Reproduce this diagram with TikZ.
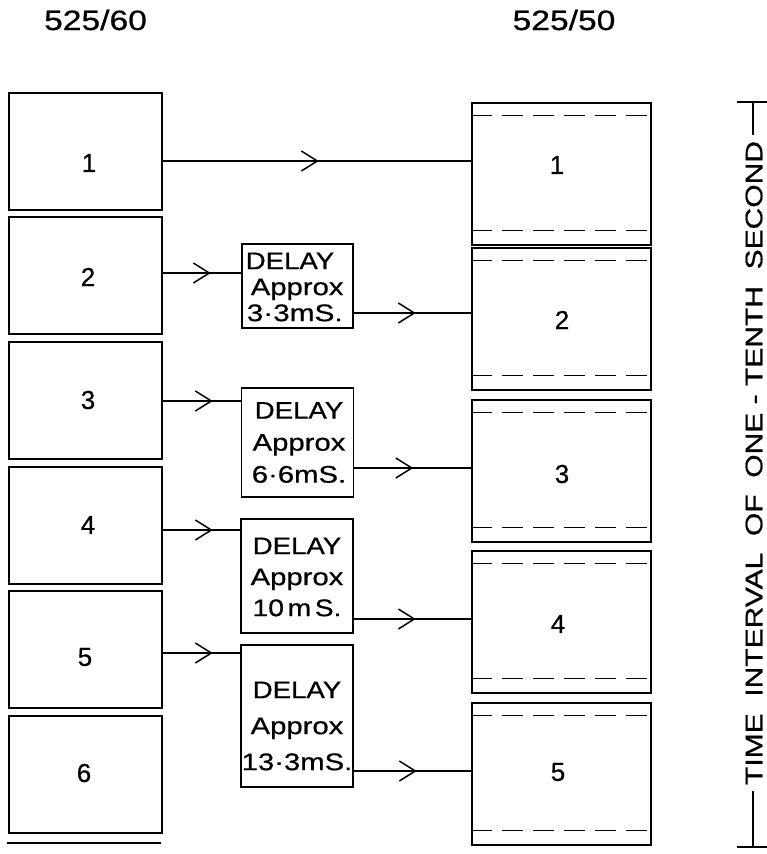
\documentclass[tikz,border=0pt]{standalone}
\usepackage{fontspec}
\setmainfont{Liberation Sans}[FakeBold=0.6]
\usetikzlibrary{arrows.meta,decorations.markings}
\newcommand\hs[2]{\scalebox{#1}[1]{#2}}
\begin{document}
\begin{tikzpicture}[x=1pt,y=-1pt,
  line width=1.5pt,
  >={Straight Barb[length=16pt,width=20pt]},
  box/.style={draw, rectangle, inner sep=0pt},
  lbox/.style={box, minimum width=153pt, minimum height=117pt},
  rbox/.style={box, minimum width=179pt, minimum height=142pt},
  dbox/.style={box, minimum width=112pt},
  num/.style={font=\fontsize{26}{26}\selectfont, inner sep=0pt},
  head/.style={font=\fontsize{28}{28}\selectfont, inner sep=0pt},
  dtext/.style={font=\fontsize{24}{#1}\selectfont, align=center, inner sep=0pt},
  arrowat/.style={postaction={decorate}, decoration={markings, mark=at position #1 with {\arrow{>}}}},
  dashln/.style={dash pattern=on 21pt off 10pt, line width=1.4pt}
]
\useasboundingbox (0,0) rectangle (767,854);

% headers
\node[head] (h1) at (95.5,20) {\hs{1.2}{525/60}};
\node[head] (h2) at (564,20) {\hs{1.2}{525/50}};

% left boxes (525/60)
\node[lbox] (L1) at (85.5,151.5) {};
\node[lbox] (L2) at (85.5,275.5) {};
\node[lbox] (L3) at (85.5,400.5) {};
\node[lbox] (L4) at (85.5,525.5) {};
\node[lbox] (L5) at (85.5,649.5) {};
\node[lbox] (L6) at (85.5,774.5) {};
\draw ([shift={(-1pt,-9pt)}]L6.south west) -- ([shift={(-2pt,-9pt)}]L6.south east);

\node[num] (l1) at (89,163) {1};
\node[num] (l2) at (88,277) {2};
\node[num] (l3) at (88,400) {3};
\node[num] (l4) at (88,525) {4};
\node[num] (l5) at (85,657) {5};
\node[num] (l6) at (84,773) {6};

% right boxes (525/50)
\node[rbox] (R1) at (561.5,174) {};
\node[rbox] (R2) at (561.5,319) {};
\node[rbox] (R3) at (561.5,471) {};
\node[rbox] (R4) at (561.5,622) {};
\node[rbox] (R5) at (561.5,774) {};
\foreach \r in {R1,R2,R3,R4,R5}{
  \draw[dashln] ([yshift=-13pt]\r.north west) -- ([yshift=-13pt]\r.north east);
  \draw[dashln] ([yshift=15pt]\r.south west) -- ([yshift=15pt]\r.south east);
}
\node[num] (r1) at (557,165) {1};
\node[num] (r2) at (562,320) {2};
\node[num] (r3) at (562,474) {3};
\node[num] (r4) at (558,624) {4};
\node[num] (r5) at (558,772) {5};

% delay boxes
\node[dbox, minimum width=111pt, minimum height=84pt] (D1) at (297.5,286) {};
\node[dbox, minimum height=109pt] (D2) at (297.5,442.5) {};
\node[dbox, minimum height=114pt] (D3) at (297,576) {};
\node[dbox, minimum height=142pt] (D4) at (297,716) {};

\node[dtext=26, align=left, anchor=west] (t1) at (245,287)
  {\hs{1.15}{DELAY}\\\hspace{5pt}\hs{1.22}{Approx}\\\hspace{1pt}\hs{1.24}{3·3mS.}};
\node[dtext=32] (t2) at (299,442.5)
  {\hs{1.15}{DELAY}\\\hs{1.22}{Approx}\\\hs{1.22}{6·6mS.}};
\node[dtext=31] (t3) at (297,577)
  {\hs{1.15}{DELAY}\\\hs{1.22}{Approx}\\\hs{1.18}{10\hspace{3pt}m\hspace{3pt}S.}};
\node[dtext=36] (t4) at (297,726)
  {\hs{1.15}{DELAY}\\\hs{1.22}{Approx}\\\hs{1.22}{13·3mS.}};

% connectors
\draw[arrowat=156pt] (L1.east |- 0,161) -- (R1.west |- 0,161);
\draw[arrowat=48pt] (L2.east |- 0,273) -- (D1.west |- 0,273);
\draw[arrowat=62pt] (D1.east |- 0,313) -- (R2.west |- 0,313);
\draw[arrowat=50pt] (L3.east |- 0,401) -- (D2.west |- 0,401);
\draw[arrowat=59pt] (D2.east |- 0,468) -- (R3.west |- 0,468);
\draw[arrowat=50pt] (L4.east |- 0,530) -- (D3.west |- 0,530);
\draw[arrowat=62pt] (D3.east |- 0,619) -- (R4.west |- 0,619);
\draw[arrowat=50pt] (L5.east |- 0,653) -- (D4.west |- 0,653);
\draw[arrowat=63pt] (D4.east |- 0,771) -- (R5.west |- 0,771);

% time interval bracket
\node[rotate=90, font=\fontsize{24}{24}\selectfont, inner xsep=5pt, inner ysep=0pt] (T) at (754,463)
  {\hs{1.25}{TIME\ \ INTERVAL\ \ OF\ \ ONE - TENTH\ \ SECOND}};
\coordinate (bt) at (753,102);
\coordinate (bb) at (753,847);
\draw (bt) -- (T.east -| bt);
\draw (bb) -- (T.west -| bb);
\draw ([xshift=-16pt]bt) -- ([xshift=14pt]bt);
\draw ([xshift=-16pt]bb) -- ([xshift=14pt]bb);
\end{tikzpicture}
\end{document}
